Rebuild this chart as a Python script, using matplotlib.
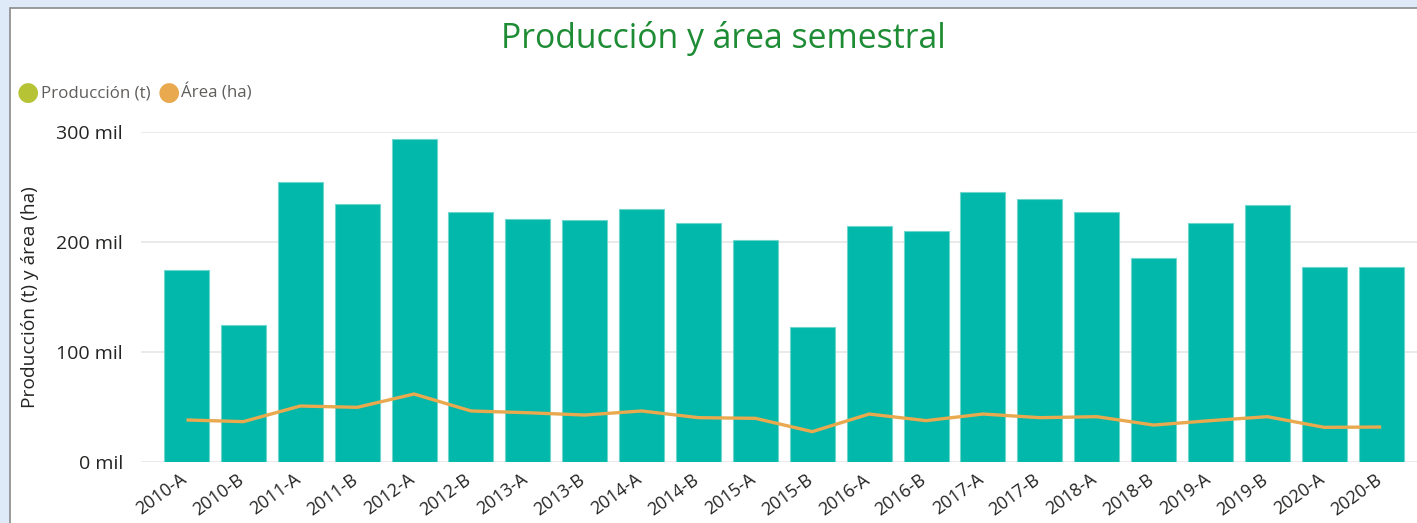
import numpy as np
import matplotlib.pyplot as plt
import matplotlib.transforms as mtransforms
from matplotlib.patches import Rectangle

# semesters on the x axis
periodos = ["2010-A", "2010-B", "2011-A", "2011-B", "2012-A", "2012-B",
            "2013-A", "2013-B", "2014-A", "2014-B", "2015-A", "2015-B",
            "2016-A", "2016-B", "2017-A", "2017-B", "2018-A", "2018-B",
            "2019-A", "2019-B", "2020-A", "2020-B"]

# production (t), thousands
produccion = [174.5, 124.5, 254.8, 235.0, 293.3, 227.0,
              220.6, 220.0, 229.7, 217.0, 201.8, 122.7,
              214.5, 210.3, 245.8, 238.8, 227.0, 185.2,
              217.6, 234.0, 177.6, 177.3]

# area (ha), thousands
area = [38.2, 36.7, 50.9, 49.7, 61.8, 46.4,
        44.8, 42.7, 46.4, 40.3, 39.7, 27.6,
        43.6, 37.6, 43.6, 40.3, 41.2, 33.6,
        37.6, 41.2, 31.5, 31.8]

y_ticks = [0, 100, 200, 300]
y_tick_labels = ["0 mil", "100 mil", "200 mil", "300 mil"]

FONT = ["Open Sans", "DejaVu Sans"]
plt.rcParams['font.family'] = FONT

W, H = 1417, 523
fig = plt.figure(figsize=(W / 100, H / 100), dpi=100)
fig.patch.set_facecolor("#DEEAF8")

# white card with grey border
card = Rectangle((10 / W, -0.01), 1 - 10 / W + 0.01, 1 - 8 / H + 0.01,
                 transform=fig.transFigure, facecolor="white",
                 edgecolor="#8A8A8A", linewidth=1.2, zorder=-5)
fig.patches.append(card)

ax = fig.add_axes([141 / W, 1 - 462 / H, 1 - 141 / W, (462 - 132) / H])
ax.set_facecolor("none")

x = np.arange(len(periodos))
ax.bar(x, produccion, width=0.79, color="#01B8AA", edgecolor="#6FD6CD",
       linewidth=0.8, zorder=2)
ax.plot(x, area, color="#E8A94F", linewidth=2.4, solid_capstyle="butt", zorder=3)

ax.set_xlim(-0.8, 21.63)
ax.set_ylim(0, 300)
ax.set_yticks(y_ticks)
ax.set_yticklabels(y_tick_labels, fontsize=14, color="#252423")
ax.set_xticks(x)
ax.set_xticklabels(periodos, rotation=36, ha="right", rotation_mode="anchor",
                   fontsize=12.8, color="#252423")
ax.tick_params(axis="both", length=0)
ax.tick_params(axis="y", pad=13)
ax.tick_params(axis="x", pad=6)
for s in ax.spines.values():
    s.set_visible(False)
ax.grid(axis="y", color="#E6E6E6", linewidth=1.2, zorder=0)
ax.set_axisbelow(True)

# nudge the rotated labels a bit left, like the original
shift = mtransforms.ScaledTranslation(-7 / 100, 0, fig.dpi_scale_trans)
for lbl in ax.get_xticklabels():
    lbl.set_transform(lbl.get_transform() + shift)

fig.text(30 / W, 1 - 297 / H, "Producción (t) y área (ha)", rotation=90,
         ha="center", va="center", fontsize=13.8, color="#252423")

fig.text(723 / W, 1 - 38 / H, "Producción y área semestral", ha="center",
         va="center", fontsize=24.3, color="#1E8C35")

# legend
for cx, col, lx, lab in [(28, "#B5C334", 41, "Producción (t)"),
                         (169, "#E8A94F", 181, "Área (ha)")]:
    fig.text(cx / W, 1 - 93 / H, "●", ha="center", va="center", fontsize=18.5,
             color=col, family="DejaVu Sans")
    fig.text(lx / W, 1 - 93 / H, lab, ha="left", va="center", fontsize=12.2,
             color="#605E5C")

fig.savefig("out.png", dpi=100, facecolor=fig.get_facecolor())
